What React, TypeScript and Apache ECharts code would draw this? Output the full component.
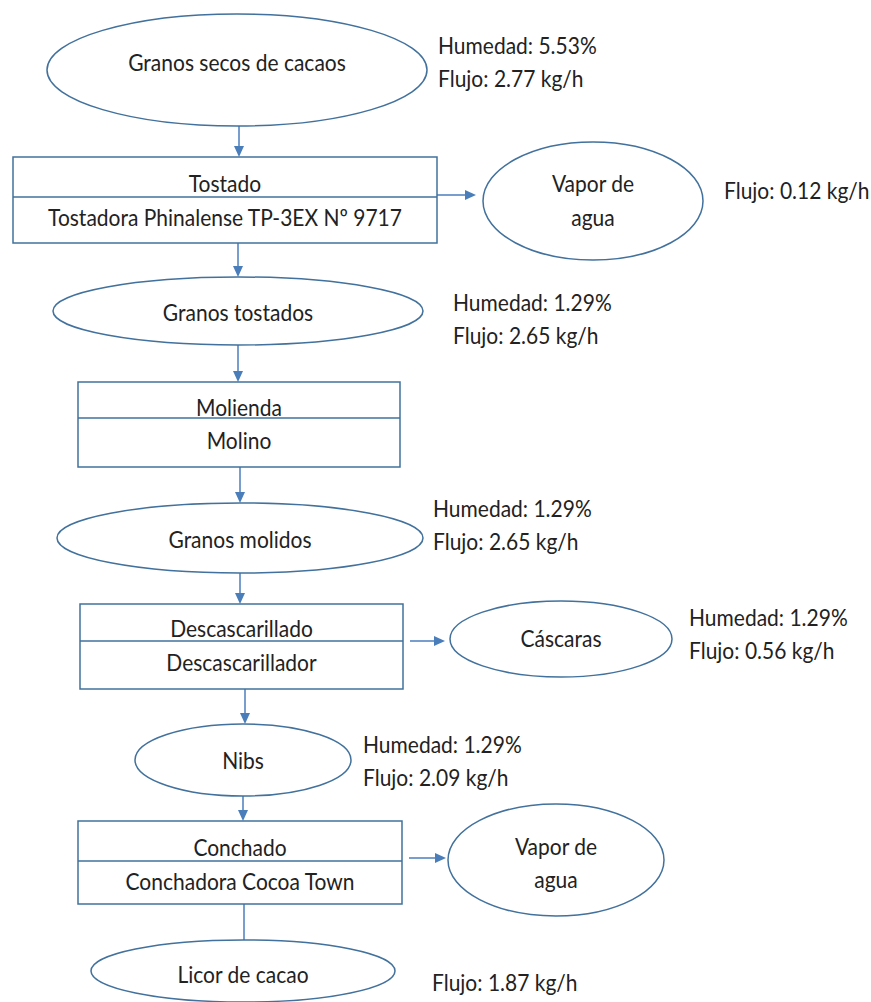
import React, { useEffect, useRef } from "react";
import * as echarts from "echarts";

// ---------- data ----------
const streamNames = [
  "Granos secos de cacaos",
  "Granos tostados",
  "Granos molidos",
  "Nibs",
  "Licor de cacao",
];
const streamHumidity: (number | null)[] = [5.53, 1.29, 1.29, 1.29, null];
const streamFlow: (number | null)[] = [2.77, 2.65, 2.65, 2.09, 1.87];

const stepNames = ["Tostado", "Molienda", "Descascarillado", "Conchado"];
const stepEquipment = [
  "Tostadora Phinalense TP-3EX Nº 9717",
  "Molino",
  "Descascarillador",
  "Conchadora Cocoa Town",
];

const outputNames = [["Vapor de", "agua"], ["Cáscaras"], ["Vapor de", "agua"]];
const outputHumidity: (number | null)[] = [null, 1.29, null];
const outputFlow: (number | null)[] = [0.12, 0.56, null];

// ---------- layout (design units of an 871 x 1002 sheet) ----------
const W = 871;
const H = 1002;
const streamLayout = [
  { cx: 237, cy: 70, rx: 190, ry: 56, ty: 62, lx: 438, ly: 45 },
  { cx: 238, cy: 311, rx: 185, ry: 34, ty: 312, lx: 453, ly: 302 },
  { cx: 240, cy: 538, rx: 183, ry: 35, ty: 539, lx: 433, ly: 508 },
  { cx: 243, cy: 760, rx: 108, ry: 36, ty: 760, lx: 363, ly: 744 },
  { cx: 243, cy: 971, rx: 152, ry: 31, ty: 974, lx: 432, ly: 982 },
];
const stepLayout = [
  { x0: 13, x1: 437, y0: 157, y1: 243, yd: 197, t1: 183, t2: 217 },
  { x0: 78, x1: 400, y0: 382, y1: 467, yd: 418, t1: 407, t2: 440 },
  { x0: 80, x1: 403, y0: 604, y1: 689, yd: 641, t1: 628, t2: 662 },
  { x0: 78, x1: 402, y0: 821, y1: 904, yd: 861, t1: 847, t2: 881 },
];
const outputLayout = [
  { cx: 593, cy: 201, rx: 110, ry: 59, ty: [183, 217], lx: 724, ly: 190, ay: 195, ax0: 437, ax1: 476 },
  { cx: 561, cy: 639, rx: 111, ry: 38, ty: [638], lx: 689, ly: 616, ay: 641, ax0: 410, ax1: 445 },
  { cx: 556, cy: 860, rx: 108, ry: 56, ty: [846, 879], lx: 0, ly: 0, ay: 858, ax0: 409, ax1: 446 },
];
const LINE_GAP = 33;

const STROKE = "#41719C";
const ARROW = "#4A7EBB";
const TEXT = "#222222";
const FONT_FAMILY = "Lato, 'Open Sans', sans-serif";
const FONT_SIZE = 21;

function txt(x: number, y: number, text: string, align: "left" | "center") {
  return {
    type: "text",
    x,
    y,
    scaleY: 1.12,
    silent: true,
    style: {
      text,
      fill: TEXT,
      fontFamily: FONT_FAMILY,
      fontSize: FONT_SIZE,
      align,
      verticalAlign: "middle",
      textAlign: align,
      textVerticalAlign: "middle",
    },
  };
}

function labelLines(h: number | null, f: number | null): string[] {
  const out: string[] = [];
  if (h != null) out.push(`Humedad: ${h.toFixed(2)}%`);
  if (f != null) out.push(`Flujo: ${f.toFixed(2)} kg/h`);
  return out;
}

function vArrow(api: any, x: number, ya: number, yb: number, head: boolean) {
  const a = api.coord([x, ya]);
  const b = api.coord([x, yb]);
  const els: any[] = [
    {
      type: "line",
      shape: { x1: a[0], y1: a[1], x2: b[0], y2: head ? b[1] - 9 : b[1] },
      style: { stroke: ARROW, lineWidth: 1.5 },
    },
  ];
  if (head)
    els.push({
      type: "polygon",
      shape: { points: [[b[0], b[1]], [b[0] - 5, b[1] - 11], [b[0] + 5, b[1] - 11]] },
      style: { fill: ARROW },
    });
  return els;
}

function hArrow(api: any, xa: number, xb: number, y: number) {
  const a = api.coord([xa, y]);
  const b = api.coord([xb, y]);
  return [
    {
      type: "line",
      shape: { x1: a[0], y1: a[1], x2: b[0] - 9, y2: b[1] },
      style: { stroke: ARROW, lineWidth: 1.5 },
    },
    {
      type: "polygon",
      shape: { points: [[b[0], b[1]], [b[0] - 11, b[1] - 5], [b[0] - 11, b[1] + 5]] },
      style: { fill: ARROW },
    },
  ];
}

export default function App() {
  const ref = useRef<HTMLDivElement>(null);
  useEffect(() => {
    if (!ref.current) return;
    const chart = echarts.init(ref.current, undefined, { renderer: "svg" });

    const option: any = {
      animation: false,
      backgroundColor: "#ffffff",
      grid: { left: 0, right: 0, top: 0, bottom: 0 },
      xAxis: { type: "value", min: 0, max: W, show: false },
      yAxis: { type: "value", min: 0, max: H, inverse: true, show: false },
      series: [
        // connectors
        {
          type: "custom",
          coordinateSystem: "cartesian2d",
          clip: false,
          silent: true,
          z: 1,
          data: stepNames.map((_, i) => [i]),
          renderItem: (params: any, api: any) => {
            const i = params.dataIndex;
            const S = stepLayout[i];
            const a = streamLayout[i];
            const b = streamLayout[i + 1];
            const els: any[] = [];
            els.push(...vArrow(api, i === 0 ? 239 : a.cx, a.cy + a.ry, S.y0, true));
            els.push(...vArrow(api, b.cx + (i === 2 ? 2 : i === 3 ? 1 : 0), S.y1, b.cy - b.ry, i !== 3));
            if (i !== 1) {
              const O = outputLayout[i === 0 ? 0 : i - 1];
              els.push(...hArrow(api, O.ax0, O.ax1, O.ay));
            }
            return { type: "group", children: els };
          },
        },
        // process steps (rectangles)
        {
          type: "custom",
          coordinateSystem: "cartesian2d",
          clip: false,
          silent: true,
          z: 2,
          data: stepNames.map((_, i) => [stepLayout[i].x0, stepLayout[i].y0]),
          renderItem: (params: any, api: any) => {
            const i = params.dataIndex;
            const S = stepLayout[i];
            const p0 = api.coord([api.value(0), api.value(1)]);
            const p1 = api.coord([S.x1, S.y1]);
            const pd = api.coord([S.x1, S.yd]);
            const cx = (p0[0] + p1[0]) / 2;
            return {
              type: "group",
              children: [
                {
                  type: "rect",
                  shape: { x: p0[0], y: p0[1], width: p1[0] - p0[0], height: p1[1] - p0[1] },
                  style: { fill: "#ffffff", stroke: STROKE, lineWidth: 1.5 },
                },
                {
                  type: "line",
                  shape: { x1: p0[0], y1: pd[1], x2: p1[0], y2: pd[1] },
                  style: { stroke: STROKE, lineWidth: 1.5 },
                },
                txt(cx, api.coord([0, S.t1])[1], stepNames[i], "center"),
                txt(cx, api.coord([0, S.t2])[1], stepEquipment[i], "center"),
              ],
            };
          },
        },
        // main streams (ellipses)
        {
          type: "custom",
          coordinateSystem: "cartesian2d",
          clip: false,
          silent: true,
          z: 2,
          data: streamNames.map((_, i) => [streamLayout[i].cx, streamLayout[i].cy]),
          renderItem: (params: any, api: any) => {
            const i = params.dataIndex;
            const L = streamLayout[i];
            const c = api.coord([api.value(0), api.value(1)]);
            const s = api.size([L.rx, L.ry]);
            const children: any[] = [
              {
                type: "ellipse",
                shape: { cx: c[0], cy: c[1], rx: s[0], ry: s[1] },
                style: { fill: "#ffffff", stroke: STROKE, lineWidth: 1.5 },
              },
              txt(c[0], api.coord([0, L.ty])[1], streamNames[i], "center"),
            ];
            labelLines(streamHumidity[i], streamFlow[i]).forEach((t, k) => {
              const p = api.coord([L.lx, L.ly + k * LINE_GAP]);
              children.push(txt(p[0], p[1], t, "left"));
            });
            return { type: "group", children };
          },
        },
        // side outputs (ellipses)
        {
          type: "custom",
          coordinateSystem: "cartesian2d",
          clip: false,
          silent: true,
          z: 2,
          data: outputNames.map((_, i) => [outputLayout[i].cx, outputLayout[i].cy]),
          renderItem: (params: any, api: any) => {
            const i = params.dataIndex;
            const L = outputLayout[i];
            const c = api.coord([api.value(0), api.value(1)]);
            const s = api.size([L.rx, L.ry]);
            const children: any[] = [
              {
                type: "ellipse",
                shape: { cx: c[0], cy: c[1], rx: s[0], ry: s[1] },
                style: { fill: "#ffffff", stroke: STROKE, lineWidth: 1.5 },
              },
            ];
            outputNames[i].forEach((t, k) => {
              children.push(txt(c[0], api.coord([0, L.ty[k]])[1], t, "center"));
            });
            labelLines(outputHumidity[i], outputFlow[i]).forEach((t, k) => {
              const p = api.coord([L.lx, L.ly + k * LINE_GAP + (outputHumidity[i] == null ? 0 : 1)]);
              children.push(txt(p[0], p[1], t, "left"));
            });
            return { type: "group", children };
          },
        },
      ],
    };
    chart.setOption(option);
    return () => chart.dispose();
  }, []);

  return (
    <div
      ref={ref}
      style={{ position: "fixed", left: 0, top: 0, width: W, height: H, background: "#fff" }}
    />
  );
}
